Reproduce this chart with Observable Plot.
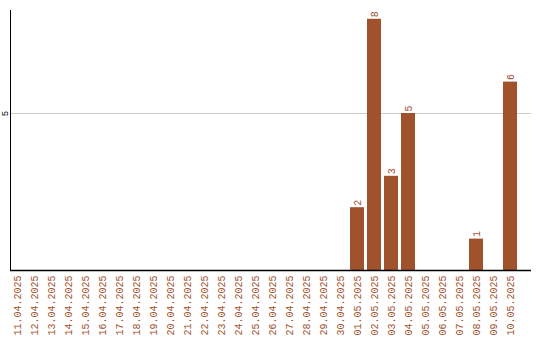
<!DOCTYPE html>
<html>
<head>
<meta charset="utf-8">
<script src="https://cdn.jsdelivr.net/npm/d3@7"></script>
<script src="https://cdn.jsdelivr.net/npm/@observablehq/plot@0.6"></script>
<style>
  html, body { margin: 0; padding: 0; background: #fff; }
</style>
</head>
<body>
<div id="chart"></div>
<script>
const dates = [
  "11.04.2025","12.04.2025","13.04.2025","14.04.2025","15.04.2025","16.04.2025",
  "17.04.2025","18.04.2025","19.04.2025","20.04.2025","21.04.2025","22.04.2025",
  "23.04.2025","24.04.2025","25.04.2025","26.04.2025","27.04.2025","28.04.2025",
  "29.04.2025","30.04.2025","01.05.2025","02.05.2025","03.05.2025","04.05.2025",
  "05.05.2025","06.05.2025","07.05.2025","08.05.2025","09.05.2025","10.05.2025"
];
const counts = [
  0,0,0,0,0,0,
  0,0,0,0,0,0,
  0,0,0,0,0,0,
  0,0,2,8,3,5,
  0,0,0,1,0,6
];
const yTicks = [5];

const data = dates.map((d, i) => ({date: d, value: counts[i]}));
const color = "#a0522d";

const chart = Plot.plot({
  width: 540,
  height: 340,
  marginLeft: 10,
  marginRight: 9,
  marginTop: 10,
  marginBottom: 70,
  style: {background: "#fff", fontFamily: "'Liberation Mono', monospace"},
  x: {domain: dates, range: [10, 517], paddingInner: 3/17, paddingOuter: 0, label: null},
  y: {domain: [0, 8.28], label: null},
  marks: [
    Plot.gridY(yTicks, {stroke: "#cccccc", strokeOpacity: 1}),
    Plot.barY(data, {x: "date", y: "value", fill: color}),
    Plot.text(data.filter(d => d.value > 0), {
      x: "date", y: "value", text: d => String(d.value),
      rotate: -90, textAnchor: "start", dy: -2, fill: color, fontSize: 10
    }),
    Plot.axisX({tickSize: 0, tickPadding: 5, tickRotate: -90, fontSize: 10, fill: color}),
    Plot.axisY({ticks: yTicks, tickSize: 0, tickPadding: 3, tickRotate: -90, fontSize: 9, fill: "#000", textAnchor: "middle"}),
    Plot.frame({anchor: "left", stroke: "#000"}),
    Plot.ruleY([0], {stroke: "#000", strokeWidth: 1.5})
  ]
});
document.getElementById("chart").appendChild(chart);
</script>
</body>
</html>
